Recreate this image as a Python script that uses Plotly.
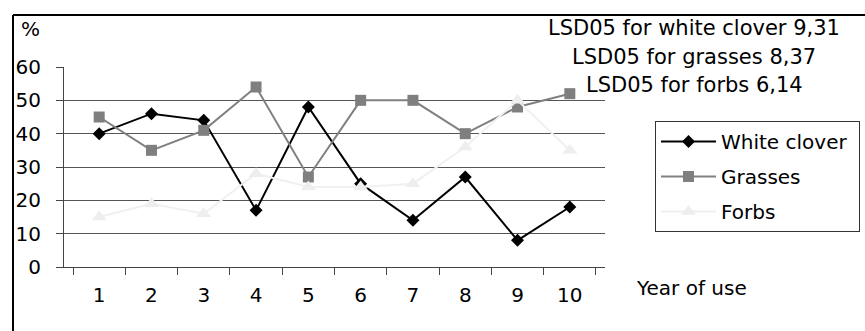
import plotly.graph_objects as go

# Years of use and the share (%) of each species group in the sward
years = ["1", "2", "3", "4", "5", "6", "7", "8", "9", "10"]
white_clover = [40, 46, 44, 17, 48, 25, 14, 27, 8, 18]
grasses = [45, 35, 41, 54, 27, 50, 50, 40, 48, 52]
forbs = [15, 19, 16, 28, 24, 24, 25, 36, 50, 35]

lsd_lines = [
    "LSD05 for white clover 9,31",
    "LSD05 for grasses 8,37",
    "LSD05 for forbs 6,14",
]
y_ticks = [0, 10, 20, 30, 40, 50, 60]

W, H = 865, 331
L, R, T, B = 64, 260, 67, 64
PW, PH = W - L - R, H - T - B
FONT = "DejaVu Sans"
PAD = "\u00a0"  # a little extra room on the legend's right side


def px_x(x):
    return (x - L) / PW


def px_y(y):
    return (H - B - y) / PH


fig = go.Figure()
fig.add_trace(go.Scatter(
    x=years, y=white_clover, name="White clover" + PAD, mode="lines+markers",
    line=dict(color="#000000", width=2),
    marker=dict(symbol="diamond", size=10, color="#000000"),
    legendgroup="a",
))
fig.add_trace(go.Scatter(
    x=years, y=grasses, name="Grasses", mode="lines+markers",
    line=dict(color="#808080", width=2),
    marker=dict(symbol="square", size=11, color="#7f7f7f"),
    legendgroup="b",
))
fig.add_trace(go.Scatter(
    x=years, y=forbs, name="Forbs", mode="lines+markers",
    line=dict(color="#f0f0f0", width=2),
    marker=dict(symbol="triangle-up", size=13, color="#eeeeee"),
    legendgroup="c",
))

annotations = [
    dict(text="%", x=px_x(30), y=px_y(29), xanchor="center", yanchor="middle", size=20),
    dict(text="Year of use", x=px_x(634), y=px_y(288), xanchor="left", yanchor="middle", size=20),
]
for i, t in enumerate(lsd_lines):
    annotations.append(dict(text=t, x=px_x(694), y=px_y(28 + 28.5 * i),
                            xanchor="center", yanchor="middle", size=21))
for a in annotations:
    size = a.pop("size")
    a.update(xref="paper", yref="paper", showarrow=False,
             font=dict(family=FONT, size=size, color="#000000"))

# Outer frame (top and left edges)
shapes = [
    dict(type="line", xref="paper", yref="paper",
         x0=px_x(13), x1=px_x(866), y0=px_y(15), y1=px_y(15),
         line=dict(color="#000000", width=2)),
    dict(type="line", xref="paper", yref="paper",
         x0=px_x(13), x1=px_x(13), y0=px_y(15), y1=px_y(335),
         line=dict(color="#000000", width=2)),
]

fig.update_layout(
    width=W, height=H,
    margin=dict(l=L, r=R, t=T, b=B, pad=0, autoexpand=False),
    paper_bgcolor="white", plot_bgcolor="white",
    font=dict(family=FONT, size=20, color="#000000"),
    showlegend=True,
    legend=dict(
        x=px_x(860), y=px_y(121), xanchor="right", yanchor="top",
        bordercolor="#333333", borderwidth=1, bgcolor="white",
        font=dict(family=FONT, size=20, color="#000000"),
        itemwidth=55, tracegroupgap=6, traceorder="grouped",
    ),
    annotations=annotations,
    shapes=shapes,
    xaxis=dict(
        type="category", tickson="boundaries", ticks="outside", ticklen=7,
        tickcolor="#444444", showline=True, linecolor="#444444", linewidth=1,
        showgrid=False, zeroline=False, ticklabelstandoff=10,
        tickfont=dict(family=FONT, size=20, color="#000000"),
    ),
    yaxis=dict(
        range=[0, 60], tickvals=y_ticks, ticks="outside", ticklen=7,
        tickcolor="#444444", showline=True, linecolor="#444444", linewidth=1,
        showgrid=True, gridcolor="#555555", gridwidth=1, zeroline=False,
        ticklabelstandoff=11,
        tickfont=dict(family=FONT, size=20, color="#000000"),
    ),
)

fig.write_html("out.html")
